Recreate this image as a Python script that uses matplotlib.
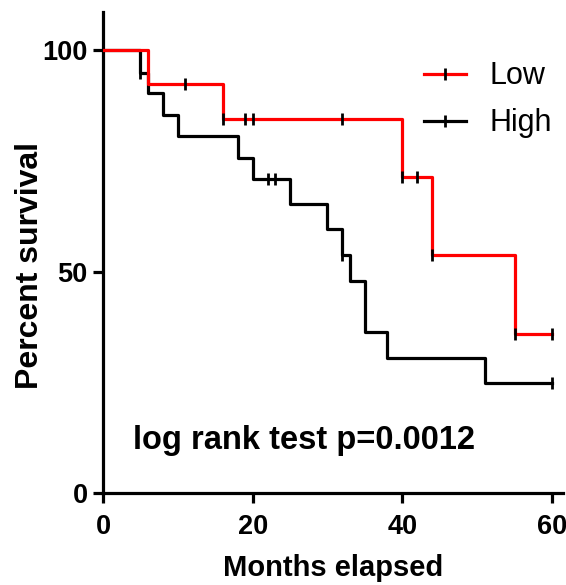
import numpy as np
import matplotlib.pyplot as plt
from matplotlib.lines import Line2D

plt.rcParams['font.family'] = ['Liberation Sans', 'DejaVu Sans']

# Kaplan-Meier steps (time in months, percent survival)
low_t = [0, 6, 16, 40, 44, 55, 60]
low_s = [100, 92.3, 84.6, 71.5, 53.8, 35.9, 35.9]
low_cens_t = [11, 16, 19, 20, 32, 40, 42, 44, 55, 60]

high_t = [0, 5, 6, 8, 10, 18, 20, 25, 30, 32, 33, 35, 38, 51, 60]
high_s = [100, 95, 90.3, 85.5, 80.6, 75.8, 71, 65.4, 59.6, 53.8, 48, 36.4, 30.6, 24.8, 24.8]
high_cens_t = [5, 22, 23, 32, 60]


def step_value(t, s, x):
    idx = np.searchsorted(t, x, side='right') - 1
    return np.array(s)[idx]


fig = plt.figure(figsize=(5.66, 5.85), dpi=100)
ax = fig.add_axes([0.182, 0.157, 0.813, 0.822])

ax.step(low_t, low_s, where='post', color='#ff0000', lw=2.3, zorder=3)
ax.step(high_t, high_s, where='post', color='black', lw=2.3, zorder=2)

ax.plot(low_cens_t, step_value(low_t, low_s, low_cens_t), ls='none', marker='|',
        color='black', ms=8, mew=2, zorder=4)
ax.plot(high_cens_t, step_value(high_t, high_s, high_cens_t), ls='none', marker='|',
        color='black', ms=8, mew=2, zorder=4)

ax.set_xlim(0, 61.5)
ax.set_ylim(0, 108.6)
ax.set_xticks([0, 20, 40, 60])
ax.set_yticks([0, 50, 100])

for side in ['top', 'right']:
    ax.spines[side].set_visible(False)
for side in ['left', 'bottom']:
    ax.spines[side].set_linewidth(2.3)
ax.tick_params(width=2.3, length=7, labelsize=19.5)
ax.tick_params(axis='x', pad=8)
ax.tick_params(axis='y', pad=4)
for lab in ax.get_xticklabels() + ax.get_yticklabels():
    lab.set_fontweight('bold')

ax.set_xlabel('Months elapsed', fontsize=21, fontweight='bold', labelpad=10)
ax.set_ylabel('Percent survival', fontsize=23, fontweight='bold')
ax.yaxis.set_label_coords(-0.125, 0.474)

ax.text(4.0, 12, 'log rank test p=0.0012', fontsize=23.5, fontweight='bold',
        va='center', ha='left')

handles = [
    Line2D([], [], color='#ff0000', lw=2.3, marker='|', mec='black', ms=8, mew=2),
    Line2D([], [], color='black', lw=2.3, marker='|', mec='black', ms=8, mew=2),
]
ax.legend(handles, ['Low', 'High'], loc='upper right', bbox_to_anchor=(1.035, 0.955),
          frameon=False, fontsize=22, numpoints=1, handlelength=1.4,
          handletextpad=0.75, labelspacing=0.55)

fig.savefig('out.png', dpi=100)
